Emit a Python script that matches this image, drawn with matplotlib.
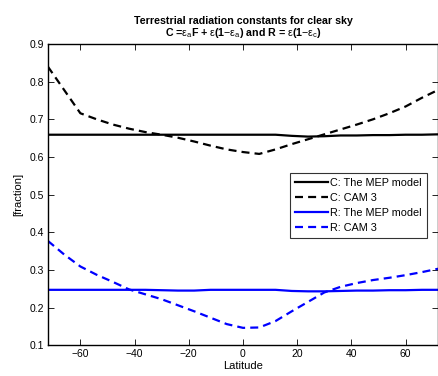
import matplotlib
matplotlib.use('Agg')
import matplotlib.pyplot as plt

# Latitude grid and radiation constants
lat = [-72, -66, -60, -54, -48, -42, -36, -30, -24, -18, -12, -6, 0,
       6, 12, 18, 24, 30, 36, 42, 48, 54, 60, 66, 72]

c_mep = [0.659, 0.659, 0.659, 0.659, 0.659, 0.659, 0.659, 0.659, 0.659,
         0.659, 0.659, 0.659, 0.659, 0.659, 0.659, 0.656, 0.654, 0.655,
         0.657, 0.657, 0.658, 0.658, 0.659, 0.659, 0.660]
c_cam = [0.840, 0.778, 0.716, 0.700, 0.686, 0.675, 0.666, 0.659, 0.651,
         0.641, 0.630, 0.620, 0.613, 0.608, 0.620, 0.634, 0.647, 0.660,
         0.673, 0.686, 0.700, 0.716, 0.734, 0.757, 0.778]
r_mep = [0.247, 0.247, 0.247, 0.247, 0.247, 0.247, 0.247, 0.246, 0.245,
         0.245, 0.247, 0.247, 0.247, 0.247, 0.247, 0.244, 0.243, 0.243,
         0.244, 0.245, 0.245, 0.246, 0.246, 0.247, 0.247]
r_cam = [0.377, 0.341, 0.309, 0.287, 0.268, 0.248, 0.235, 0.222, 0.206,
         0.190, 0.173, 0.156, 0.146, 0.147, 0.164, 0.190, 0.215, 0.240,
         0.255, 0.265, 0.273, 0.279, 0.286, 0.294, 0.303]

plt.rcParams['font.family'] = ['Liberation Sans', 'DejaVu Sans']
plt.rcParams['mathtext.fontset'] = 'custom'
plt.rcParams['mathtext.rm'] = 'Liberation Sans'
plt.rcParams['mathtext.it'] = 'Liberation Sans'

fig = plt.figure(figsize=(4.39, 3.76), dpi=100)
ax = fig.add_axes([0.109, 0.082, 0.889, 0.801])

ax.plot(lat, c_mep, color='black', lw=1.6, label='C: The MEP model')
ax.plot(lat, c_cam, color='black', lw=1.6, ls=(0, (3.6, 2.3)), label='C: CAM 3')
ax.plot(lat, r_mep, color='blue', lw=1.6, label='R: The MEP model')
ax.plot(lat, r_cam, color='blue', lw=1.6, ls=(0, (3.6, 2.3)), label='R: CAM 3')

ax.set_xlim(-72, 72)
ax.set_ylim(0.1, 0.9)
ax.set_xticks([-60, -40, -20, 0, 20, 40, 60])
ax.set_yticks([0.1, 0.2, 0.3, 0.4, 0.5, 0.6, 0.7, 0.8, 0.9])
ax.set_yticklabels(['0.1', '0.2', '0.3', '0.4', '0.5', '0.6', '0.7', '0.8', '0.9'])
ax.tick_params(direction='in', length=4, width=0.6, top=True, right=True,
               labelsize=7.5, pad=3)
for sp in ax.spines.values():
    sp.set_linewidth(1.0)

ax.set_xlabel('Latitude', fontsize=8, labelpad=1)
ax.set_ylabel('[fraction]', fontsize=8, labelpad=4)
ax.set_title('Terrestrial radiation constants for clear sky\n'
             r'C =$\varepsilon_a$F + $\varepsilon$(1$-\varepsilon_a$) and '
             r'R = $\varepsilon$(1$-\varepsilon_c$)',
             fontsize=7.7, fontweight='bold', linespacing=1.0, pad=6)

leg = ax.legend(loc='upper left', bbox_to_anchor=(0.621, 0.571), fontsize=7.8,
                frameon=True, fancybox=False, edgecolor='black',
                handlelength=3.0, handletextpad=0.25, borderpad=0.45,
                labelspacing=0.45, borderaxespad=0)
leg.get_frame().set_linewidth(0.8)

fig.savefig('out.png', dpi=100)
